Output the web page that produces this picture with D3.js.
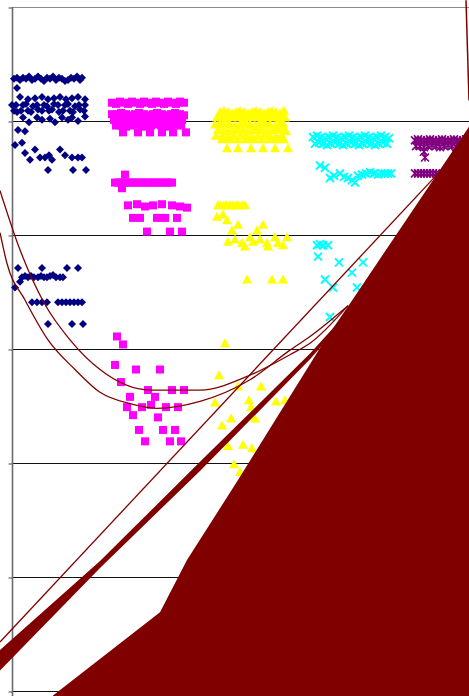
<!DOCTYPE html>
<html>
<head>
<meta charset="utf-8">
<script src="https://cdn.jsdelivr.net/npm/d3@7"></script>
<style>
  body { margin: 0; background: #fff; }
</style>
</head>
<body>
<script>
// gridline values on the value axis
const yTicks = [0, 1, 2, 3, 4, 5, 6];

// series 1 - navy diamonds
const navyPts = [
  [0.02,5.37],[0.05,5.38],[0.08,5.36],[0.11,5.38],[0.14,5.37],[0.17,5.39],[0.20,5.36],[0.23,5.37],
  [0.26,5.39],[0.29,5.37],[0.32,5.35],[0.35,5.38],[0.38,5.37],[0.41,5.39],[0.44,5.36],[0.47,5.38],
  [0.50,5.37],[0.53,5.35],[0.56,5.36],[0.59,5.38],[0.62,5.37],[0.65,5.39],[0.68,5.36],[0.70,5.38],
  [0.05,5.29],
  [0.08,5.21],[0.16,5.19],[0.23,5.20],[0.30,5.21],[0.36,5.19],[0.42,5.20],[0.48,5.21],[0.54,5.19],
  [0.60,5.20],[0.66,5.21],[0.73,5.19],
  [0.00,5.14],[0.04,5.14],[0.11,5.14],[0.14,5.15],[0.21,5.13],[0.25,5.14],
  [0.32,5.14],[0.35,5.13],[0.42,5.15],[0.46,5.14],[0.53,5.14],
  [0.56,5.15],[0.63,5.13],[0.67,5.14],[0.73,5.14],
  [0.02,5.09],[0.05,5.08],[0.09,5.09],[0.16,5.09],[0.19,5.08],[0.26,5.10],
  [0.30,5.09],[0.37,5.09],[0.40,5.10],[0.47,5.08],[0.51,5.09],
  [0.58,5.09],[0.61,5.08],[0.68,5.10],[0.72,5.09],
  [0.11,5.03],[0.25,5.03],[0.38,5.02],[0.50,5.03],[0.60,5.03],[0.73,5.04],[0.17,4.99],[0.43,4.99],
  [0.66,5.00],[0.56,5.01],[0.30,5.01],
  [0.06,4.92],[0.13,4.91],[0.03,4.79],[0.10,4.81],
  [0.13,4.72],[0.18,4.66],[0.23,4.75],[0.28,4.68],[0.33,4.68],[0.37,4.70],[0.40,4.66],[0.48,4.75],
  [0.53,4.70],[0.60,4.68],[0.66,4.68],[0.70,4.68],
  [0.36,4.57],[0.61,4.57],[0.74,4.57],
  [0.06,3.71],[0.30,3.71],[0.55,3.71],[0.66,3.71],
  [0.10,3.63],[0.13,3.64],[0.16,3.63],[0.19,3.64],[0.22,3.63],[0.26,3.63],[0.29,3.64],[0.32,3.63],
  [0.35,3.63],[0.38,3.64],[0.41,3.65],[0.44,3.63],[0.48,3.63],[0.51,3.63],
  [0.08,3.59],[0.03,3.54],
  [0.20,3.41],[0.25,3.41],[0.30,3.41],[0.35,3.41],[0.46,3.41],[0.50,3.41],[0.54,3.41],[0.58,3.41],
  [0.62,3.41],[0.66,3.41],[0.70,3.41],
  [0.36,3.22],[0.60,3.22],[0.71,3.22]
];

// series 2 - magenta squares
const magentaPts = [
  [1.00,5.16],[1.04,5.15],[1.08,5.17],[1.12,5.16],[1.16,5.15],[1.20,5.17],[1.24,5.16],[1.28,5.15],
  [1.32,5.17],[1.36,5.16],[1.40,5.15],[1.44,5.17],[1.48,5.16],[1.52,5.15],[1.56,5.17],[1.60,5.16],
  [1.64,5.15],[1.68,5.17],[1.72,5.16],
  [1.00,5.06],[1.05,5.06],[1.09,5.07],[1.14,5.06],[1.18,5.05],[1.23,5.06],[1.27,5.07],[1.32,5.06],
  [1.36,5.05],[1.41,5.06],[1.45,5.07],[1.50,5.06],[1.54,5.05],[1.59,5.06],[1.63,5.07],[1.68,5.06],
  [1.72,5.05],
  [1.02,5.01],[1.07,5.01],[1.11,5.00],[1.16,5.01],[1.20,5.02],[1.25,5.01],[1.29,5.00],[1.34,5.01],
  [1.38,5.02],[1.43,5.01],[1.47,5.00],[1.52,5.01],[1.56,5.02],[1.61,5.01],[1.65,5.00],[1.70,5.01],
  [1.04,4.96],[1.09,4.96],[1.14,4.95],[1.19,4.96],[1.24,4.97],[1.29,4.96],[1.34,4.95],[1.39,4.96],
  [1.44,4.97],[1.49,4.96],[1.54,4.95],[1.59,4.96],[1.64,4.97],[1.69,4.96],
  [1.11,4.90],[1.26,4.90],[1.38,4.90],[1.50,4.90],[1.61,4.90],[1.74,4.90],
  [1.03,4.46],[1.06,4.46],[1.09,4.46],[1.12,4.46],[1.15,4.46],[1.18,4.46],[1.21,4.46],[1.24,4.46],
  [1.27,4.46],[1.30,4.46],[1.33,4.46],[1.36,4.46],[1.39,4.46],[1.42,4.46],[1.45,4.46],[1.48,4.46],
  [1.51,4.46],[1.54,4.46],[1.57,4.46],[1.60,4.46],[1.13,4.53],[1.10,4.41],
  [1.16,4.26],[1.25,4.27],[1.33,4.25],[1.41,4.26],[1.50,4.27],[1.60,4.26],[1.68,4.25],[1.75,4.24],
  [1.21,4.15],[1.28,4.15],[1.45,4.15],[1.53,4.15],[1.65,4.15],
  [1.35,4.03],[1.58,4.03],[1.70,4.03],
  [1.05,3.11],[1.11,3.04],[1.03,2.86],[1.24,2.82],[1.48,2.82],[1.09,2.71],[1.36,2.64],[1.60,2.64],
  [1.72,2.64],[1.18,2.58],[1.43,2.58],[1.15,2.49],[1.30,2.49],[1.39,2.51],[1.54,2.49],[1.66,2.49],
  [1.21,2.42],[1.46,2.40],[1.27,2.29],[1.51,2.29],[1.63,2.29],[1.33,2.19],[1.58,2.19],[1.69,2.19]
];

// series 3 - yellow triangles
const yellowPts = [
  [2.08,5.08],[2.12,5.09],[2.16,5.08],[2.20,5.07],[2.24,5.08],[2.28,5.09],[2.32,5.08],[2.36,5.07],
  [2.40,5.08],[2.44,5.09],[2.48,5.08],[2.52,5.07],[2.56,5.08],[2.60,5.09],[2.64,5.08],[2.68,5.07],
  [2.72,5.09],
  [2.05,5.03],[2.10,5.03],[2.14,5.02],[2.19,5.03],[2.23,5.04],[2.28,5.03],[2.32,5.02],[2.37,5.03],
  [2.41,5.04],[2.46,5.03],[2.50,5.02],[2.55,5.03],[2.59,5.04],[2.64,5.03],[2.68,5.02],[2.73,5.03],
  [2.03,4.97],[2.08,4.97],[2.13,4.98],[2.18,4.97],[2.23,4.96],[2.28,4.97],[2.33,4.98],[2.38,4.97],
  [2.43,4.96],[2.48,4.97],[2.53,4.98],[2.58,4.97],[2.63,4.96],[2.68,4.97],[2.71,4.98],
  [2.06,4.92],[2.11,4.92],[2.16,4.91],[2.21,4.92],[2.26,4.93],[2.31,4.92],[2.36,4.91],[2.41,4.92],
  [2.46,4.93],[2.51,4.92],[2.56,4.91],[2.61,4.92],[2.66,4.93],[2.71,4.92],[2.74,4.91],
  [2.04,4.87],[2.10,4.87],[2.16,4.86],[2.22,4.87],[2.28,4.88],[2.34,4.87],[2.40,4.86],[2.46,4.87],
  [2.52,4.88],[2.58,4.87],[2.64,4.86],[2.70,4.87],
  [2.10,4.84],[2.18,4.84],[2.26,4.84],[2.34,4.84],[2.42,4.84],[2.50,4.84],[2.58,4.84],[2.66,4.84],
  [2.72,4.84],
  [2.15,4.76],[2.26,4.76],[2.39,4.76],[2.51,4.76],[2.63,4.76],[2.76,4.76],
  [2.06,4.26],[2.09,4.26],[2.12,4.26],[2.15,4.26],[2.18,4.26],[2.21,4.26],[2.24,4.26],[2.27,4.26],
  [2.30,4.26],[2.33,4.26],
  [2.05,4.16],[2.11,4.18],[2.15,4.13],[2.20,4.04],[2.26,4.09],[2.45,4.04],[2.51,4.09],
  [2.16,3.94],[2.23,3.96],[2.30,3.93],[2.33,3.90],[2.38,3.98],[2.41,3.94],[2.48,3.96],[2.55,3.93],
  [2.56,3.90],[2.63,3.98],[2.66,3.93],[2.71,3.91],[2.75,3.98],
  [2.35,3.61],[2.60,3.61],[2.71,3.61],
  [2.13,3.05],[2.07,2.77],[2.26,2.67],[2.49,2.67],[2.03,2.53],[2.37,2.55],[2.39,2.49],[2.64,2.54],
  [2.73,2.55],[2.10,2.33],[2.19,2.39],[2.43,2.39],[2.16,2.15],[2.31,2.16],[2.40,2.13],[2.22,1.99],
  [2.28,1.92]
];

// series 4 - cyan crosses
const cyanPts = [
  [3.01,4.86],[3.05,4.87],[3.09,4.86],[3.13,4.85],[3.17,4.86],[3.21,4.87],[3.25,4.86],[3.29,4.85],
  [3.33,4.86],[3.37,4.87],[3.41,4.86],[3.45,4.85],[3.49,4.86],[3.53,4.87],[3.57,4.86],[3.61,4.85],
  [3.65,4.86],[3.69,4.87],[3.73,4.86],[3.77,4.85],
  [3.03,4.80],[3.07,4.81],[3.11,4.80],[3.15,4.79],[3.19,4.80],[3.23,4.81],[3.27,4.80],[3.31,4.79],
  [3.35,4.80],[3.39,4.81],[3.43,4.80],[3.47,4.79],[3.51,4.80],[3.55,4.81],[3.59,4.80],[3.63,4.79],
  [3.67,4.80],[3.71,4.81],[3.75,4.80],
  [3.08,4.61],[3.13,4.59],[3.18,4.50],[3.22,4.52],[3.28,4.54],[3.32,4.51],[3.36,4.50],[3.40,4.48],
  [3.43,4.46],[3.46,4.52],[3.50,4.53],[3.54,4.54],[3.58,4.55],[3.62,4.54],[3.66,4.53],[3.70,4.54],
  [3.73,4.54],[3.76,4.54],[3.79,4.54],
  [3.05,3.91],[3.08,3.92],[3.11,3.91],[3.16,3.91],[3.06,3.81],[3.27,3.76],[3.51,3.76],[3.40,3.67],
  [3.13,3.61],[3.21,3.54],[3.45,3.54],[3.18,3.28]
];

// series 5 - purple asterisks
const purplePts = [
  [4.03,4.83],[4.06,4.84],[4.09,4.83],[4.12,4.82],[4.15,4.83],[4.18,4.84],[4.21,4.83],[4.24,4.82],
  [4.27,4.83],[4.30,4.84],[4.33,4.83],[4.36,4.82],[4.39,4.83],[4.42,4.84],[4.45,4.83],[4.48,4.82],
  [4.51,4.83],[4.54,4.84],[4.57,4.83],
  [4.04,4.78],[4.08,4.78],[4.12,4.77],[4.16,4.78],[4.20,4.79],[4.24,4.78],[4.28,4.77],[4.32,4.78],
  [4.36,4.79],[4.40,4.78],[4.44,4.77],[4.48,4.78],
  [4.12,4.73],[4.13,4.68],
  [4.03,4.54],[4.06,4.54],[4.09,4.54],[4.12,4.54],[4.15,4.54],[4.18,4.54],[4.21,4.54],[4.24,4.54]
];

// trend curves
const trendA = [[-0.12,4.39],[0.08,3.87],[0.33,3.39],[0.58,3.08],[0.88,2.82],[1.38,2.64],[1.88,2.64],
  [2.38,2.77],[2.78,2.95],[2.98,3.05],[3.36,3.38]];
const trendB = [[-0.12,4.02],[-0.05,3.75],[0.13,3.43],[0.36,3.08],[0.63,2.82],[0.88,2.62],[1.18,2.52],
  [1.45,2.48],[1.88,2.54],[2.38,2.73],[2.78,2.99],[2.98,3.11],[3.36,3.38]];
const trendLin = [[-0.12,0.43],[4.57,4.83]];
const trendRight = [[4.54,6.06],[4.57,5.18]];

// dark red band (upper edge then lower edge)
const bandPts = [[-0.12,0.36],[0.88,1.14],[1.88,2.01],[2.98,2.96],[3.26,3.23],
  [3.26,3.19],[2.98,2.91],[1.88,1.93],[0.88,1.08],[-0.12,0.18]];

// dark red filled area
const areaPts = [[0.41,-0.04],[1.48,0.69],[1.75,1.15],[2.26,1.85],[3.13,3.08],[3.38,3.40],
  [4.57,4.95],[4.70,5.13],[4.70,-0.1],[0.41,-0.1]];

const W = 469, H = 696;
const svg = d3.select("body").append("svg").attr("width", W).attr("height", H);

const x = d3.scaleLinear().domain([0, 4.57]).range([12, 469]);
const y = d3.scaleLinear().domain([0, 6]).range([691, 7]);

// gridlines
svg.append("g")
  .selectAll("line")
  .data(yTicks)
  .enter()
  .append("line")
  .attr("x1", 12)
  .attr("x2", W)
  .attr("y1", d => Math.round(y(d)) + 0.5)
  .attr("y2", d => Math.round(y(d)) + 0.5)
  .attr("stroke", d => (d === 6 ? "#8c8c8c" : "#111"))
  .attr("stroke-width", 1);

// value axis ticks + line
const axis = svg.append("g")
  .attr("transform", "translate(12.5,0.5)")
  .call(d3.axisLeft(y).tickValues(yTicks).tickSize(4).tickFormat(""));
axis.select(".domain").remove();
axis.selectAll(".tick line").attr("stroke", "#444");

svg.append("line")
  .attr("x1", 12.5).attr("x2", 12.5)
  .attr("y1", y(6)).attr("y2", H)
  .attr("stroke", "#6a6a6a")
  .attr("stroke-width", 1.6);

// marker shapes
const diamond = {
  draw(ctx, size) {
    const r = Math.sqrt(size) / 2;
    ctx.moveTo(0, -r); ctx.lineTo(r, 0); ctx.lineTo(0, r); ctx.lineTo(-r, 0); ctx.closePath();
  }
};
const square = {
  draw(ctx, size) {
    const r = Math.sqrt(size) / 2;
    ctx.rect(-r, -r, 2 * r, 2 * r);
  }
};
const tri = {
  draw(ctx, size) {
    const r = Math.sqrt(size) / 2;
    ctx.moveTo(0, -r); ctx.lineTo(r, r * 0.8); ctx.lineTo(-r, r * 0.8); ctx.closePath();
  }
};
const cross = {
  draw(ctx, size) {
    const r = Math.sqrt(size) / 2;
    ctx.moveTo(-r, -r); ctx.lineTo(r, r); ctx.moveTo(r, -r); ctx.lineTo(-r, r);
  }
};
const star = {
  draw(ctx, size) {
    const r = Math.sqrt(size) / 2;
    ctx.moveTo(-r, -r); ctx.lineTo(r, r); ctx.moveTo(r, -r); ctx.lineTo(-r, r);
    ctx.moveTo(0, -r); ctx.lineTo(0, r);
  }
};

const series = [
  { pts: navyPts, type: diamond, size: 64, fill: "#000080", stroke: "none", sw: 0 },
  { pts: magentaPts, type: square, size: 64, fill: "#ff00ff", stroke: "none", sw: 0 },
  { pts: yellowPts, type: tri, size: 100, fill: "#ffff00", stroke: "none", sw: 0 },
  { pts: cyanPts, type: cross, size: 64, fill: "none", stroke: "#00ffff", sw: 2 },
  { pts: purplePts, type: star, size: 64, fill: "none", stroke: "#800080", sw: 1.6 }
];

series.forEach(s => {
  svg.append("g")
    .selectAll("path")
    .data(s.pts)
    .enter()
    .append("path")
    .attr("d", d3.symbol().type(s.type).size(s.size))
    .attr("transform", d => `translate(${x(d[0])},${y(d[1])})`)
    .attr("fill", s.fill)
    .attr("stroke", s.stroke)
    .attr("stroke-width", s.sw);
});

// trend lines
const curve = d3.line().x(d => x(d[0])).y(d => y(d[1])).curve(d3.curveMonotoneX);
const straight = d3.line().x(d => x(d[0])).y(d => y(d[1]));

[trendA, trendB].forEach(t => {
  svg.append("path").attr("d", curve(t))
    .attr("fill", "none").attr("stroke", "#800000").attr("stroke-width", 1.3);
});
svg.append("path").attr("d", straight(trendLin))
  .attr("fill", "none").attr("stroke", "#800000").attr("stroke-width", 1.3);
svg.append("path").attr("d", straight(trendRight))
  .attr("fill", "none").attr("stroke", "#800000").attr("stroke-width", 1.5);

// band and filled area
svg.append("path").attr("d", straight(bandPts) + "Z").attr("fill", "#800000");
svg.append("path").attr("d", straight(areaPts) + "Z").attr("fill", "#800000");
</script>
</body>
</html>
